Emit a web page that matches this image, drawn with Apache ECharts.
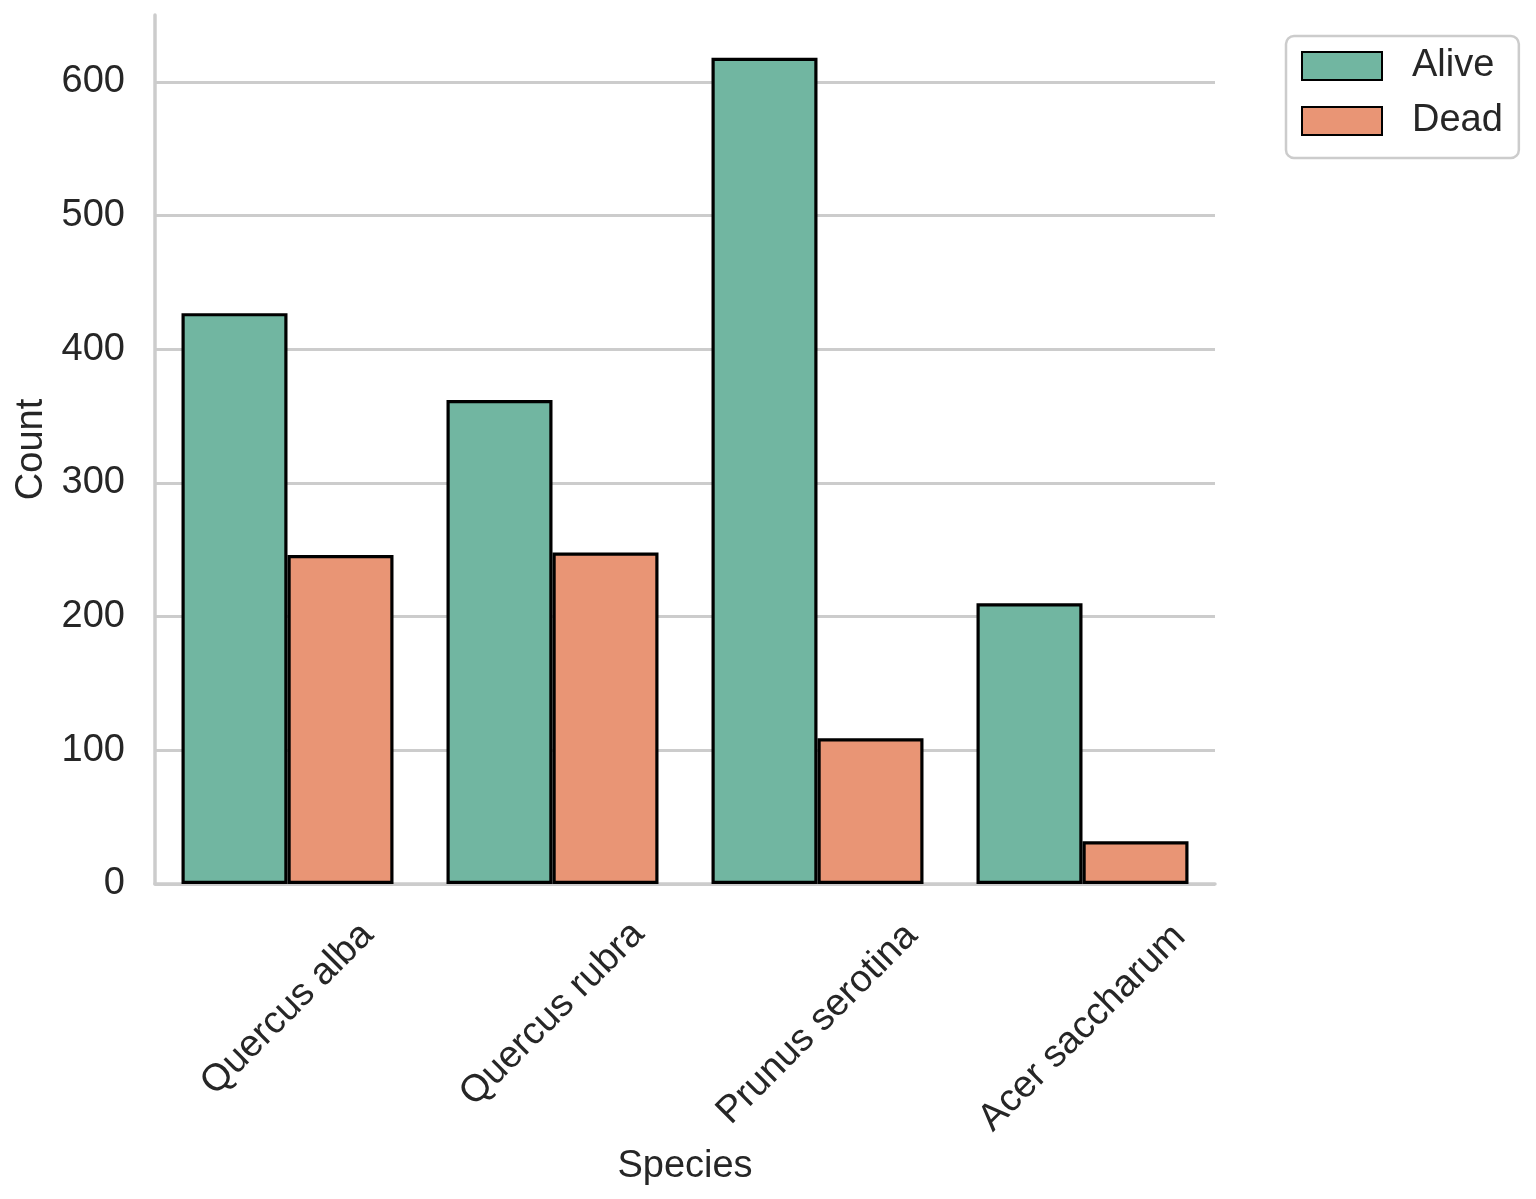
<!DOCTYPE html>
<html>
<head>
<meta charset="utf-8">
<script src="https://cdn.jsdelivr.net/npm/echarts@6/dist/echarts.min.js"></script>
<style>
  html, body { margin: 0; padding: 0; background: #fff; }
  #mychart { width: 1536px; height: 1199px; }
</style>
</head>
<body>
<div id="mychart"></div>
<script>
let species = ['Quercus alba', 'Quercus rubra', 'Prunus serotina', 'Acer saccharum']
let alive = [427, 362, 618, 210]
let dead = [246, 248, 109, 32]
let yTicks = [0, 100, 200, 300, 400, 500, 600]

// matplotlib centres the rotated labels on the tick, so longer labels sit lower
let labelShift = [0, 3.5, 10.6, 13.4]

let textColor = '#262626'
let lineColor = '#cccccc'
let font = 'Liberation Sans, Arial, sans-serif'
let labelLine = 44

let myChart = echarts.init(document.getElementById('mychart'))

// top padding pushes the text across its baseline, right padding pulls it back
// along the text, so together the label centre moves straight down
let cats = species.map((s, i) => ({
    value: s,
    textStyle: {
        align: 'center',
        verticalAlign: 'top',
        lineHeight: labelLine,
        padding: [labelShift[i], 2 * (labelLine / 2 + labelShift[i]), 0, 0]
    }
}))

myChart.setOption({
    animation: false,
    backgroundColor: '#ffffff',
    textStyle: { fontFamily: font, color: textColor },
    grid: { left: 155, right: 321, top: 15, bottom: 315, containLabel: false, outerBoundsMode: 'none' },
    legend: {
        data: ['Alive', 'Dead'],
        orient: 'vertical',
        left: 1286,
        top: 36,
        padding: [10, 16, 17, 15],
        itemWidth: 80,
        itemHeight: 28,
        itemGap: 15,
        borderColor: lineColor,
        borderWidth: 2.5,
        borderRadius: 8,
        icon: 'rect',
        textStyle: { fontSize: 38, color: textColor, fontFamily: font, padding: [0, 0, 0, 25], lineHeight: 40 }
    },
    xAxis: {
        type: 'category',
        data: cats,
        name: 'Species',
        nameLocation: 'middle',
        nameGap: 261,
        nameTextStyle: { fontSize: 38, color: textColor, fontFamily: font },
        axisLine: { lineStyle: { color: lineColor, width: 3.5 } },
        axisTick: { show: false },
        axisLabel: {
            rotate: 45,
            margin: 94,
            fontSize: 38,
            color: textColor,
            fontFamily: font,
            interval: 0
        }
    },
    yAxis: {
        type: 'value',
        min: yTicks[0],
        max: 650,
        interval: yTicks[1] - yTicks[0],
        name: 'Count',
        nameLocation: 'middle',
        nameGap: 99,
        nameTextStyle: { fontSize: 38, color: textColor, fontFamily: font },
        axisLine: { show: true, lineStyle: { color: lineColor, width: 3.5 } },
        axisTick: { show: false },
        axisLabel: { fontSize: 38, color: textColor, fontFamily: font, margin: 30, showMaxLabel: false },
        splitLine: { show: true, showMaxLine: false, lineStyle: { color: lineColor, width: 3 } }
    },
    series: [
        {
            name: 'Alive',
            type: 'bar',
            data: alive,
            barGap: '0%',
            barCategoryGap: '20%',
            itemStyle: { color: '#71b6a1', borderColor: '#000000', borderWidth: 3.2 }
        },
        {
            name: 'Dead',
            type: 'bar',
            data: dead,
            barGap: '0%',
            barCategoryGap: '20%',
            itemStyle: { color: '#e99575', borderColor: '#000000', borderWidth: 3.2 }
        }
    ]
})
</script>
</body>
</html>
